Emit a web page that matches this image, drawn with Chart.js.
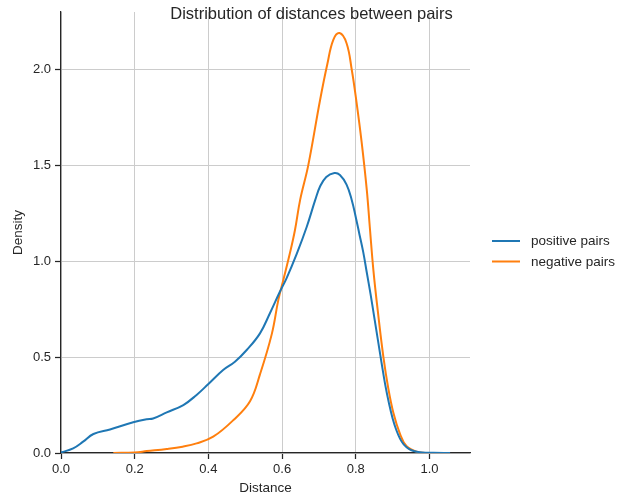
<!DOCTYPE html>
<html><head><meta charset="utf-8">
<script src="https://cdn.jsdelivr.net/npm/chart.js@4"></script>
<style>html,body{margin:0;padding:0;background:#fff}</style>
</head><body>
<canvas id="c" width="623" height="492"></canvas>
<script>
const chartTitle = 'Distribution of distances between pairs';
const seriesNames = ['positive pairs', 'negative pairs'];

const positiveX = [0, 0.033, 0.06, 0.088, 0.133, 0.196, 0.233, 0.25, 0.287, 0.332, 0.368, 0.40, 0.44, 0.472, 0.504, 0.54, 0.567, 0.594, 0.612, 0.64, 0.667, 0.69, 0.703, 0.72, 0.742, 0.757, 0.775, 0.789, 0.80, 0.81, 0.82, 0.83, 0.84, 0.85, 0.86, 0.87, 0.88, 0.89, 0.90, 0.91, 0.92, 0.93, 0.945, 0.96, 0.98, 1.01, 1.056];
const positiveY = [0.003, 0.024, 0.059, 0.099, 0.123, 0.16, 0.176, 0.18, 0.212, 0.25, 0.303, 0.36, 0.433, 0.476, 0.537, 0.624, 0.729, 0.841, 0.911, 1.04, 1.18, 1.32, 1.39, 1.44, 1.46, 1.45, 1.40, 1.32, 1.23, 1.14, 1.05, 0.94, 0.83, 0.71, 0.59, 0.47, 0.355, 0.26, 0.18, 0.12, 0.075, 0.045, 0.02, 0.009, 0.003, 0.001, 0];

const negativeX = [0.142, 0.2, 0.233, 0.287, 0.33, 0.368, 0.413, 0.468, 0.513, 0.54, 0.572, 0.59, 0.603, 0.621, 0.635, 0.649, 0.671, 0.703, 0.723, 0.739, 0.756, 0.775, 0.789, 0.802, 0.816, 0.83, 0.838, 0.848, 0.861, 0.875, 0.888, 0.902, 0.92, 0.938, 0.965, 0.992];
const negativeY = [0, 0.003, 0.01, 0.021, 0.033, 0.05, 0.085, 0.172, 0.27, 0.41, 0.62, 0.80, 0.90, 1.04, 1.163, 1.32, 1.5, 1.84, 2.03, 2.155, 2.19, 2.137, 2.0, 1.83, 1.62, 1.37, 1.18, 0.95, 0.72, 0.50, 0.34, 0.21, 0.10, 0.035, 0.007, 0];

const xTickValues = [0, 0.2, 0.4, 0.6, 0.8, 1.0];
const yTickValues = [0, 0.5, 1.0, 1.5, 2.0];

const FONT = '"Liberation Sans", Arial, sans-serif';
const TXT = '#262626';

const overlay = {
  id: 'overlay',
  afterDraw(chart) {
    const ctx = chart.ctx;
    ctx.save();
    ctx.fillStyle = TXT;
    ctx.font = '16.5px ' + FONT;
    ctx.textAlign = 'center';
    ctx.textBaseline = 'middle';
    ctx.fillText(chartTitle, 311.5, 14);
    chart.data.datasets.forEach((ds, i) => {
      const y = 241 + i * 20.5;
      ctx.strokeStyle = ds.borderColor;
      ctx.lineWidth = 2;
      ctx.beginPath();
      ctx.moveTo(492, y);
      ctx.lineTo(520, y);
      ctx.stroke();
      ctx.fillStyle = TXT;
      ctx.font = '13.5px ' + FONT;
      ctx.textAlign = 'left';
      ctx.textBaseline = 'middle';
      ctx.fillText(ds.label, 531, y + 0.5);
    });
    ctx.restore();
  }
};

const toPts = (xs, ys) => xs.map((x, i) => ({x: x, y: ys[i]}));

new Chart(document.getElementById('c'), {
  type: 'line',
  data: {
    datasets: [
      {label: seriesNames[0], data: toPts(positiveX, positiveY), borderColor: '#1f77b4', backgroundColor: '#1f77b4', borderWidth: 2, pointRadius: 0, tension: 0.4, fill: false},
      {label: seriesNames[1], data: toPts(negativeX, negativeY), borderColor: '#ff7f0e', backgroundColor: '#ff7f0e', borderWidth: 2, pointRadius: 0, tension: 0.4, fill: false}
    ]
  },
  options: {
    responsive: false,
    animation: false,
    layout: {padding: {left: 0, right: 153, top: 12, bottom: 0}},
    plugins: {legend: {display: false}, title: {display: false}, tooltip: {enabled: false}},
    scales: {
      x: {
        type: 'linear', min: 0, max: 1.11,
        afterFit: s => { s.height = 39; },
        afterBuildTicks: s => { s.ticks = xTickValues.map(v => ({value: v})); },
        border: {display: true, color: '#262626', width: 1.25},
        grid: {color: '#cccccc', lineWidth: 1, drawTicks: true, tickLength: 6, tickColor: '#262626', tickWidth: 1.25},
        ticks: {padding: 3, color: TXT, font: {size: 13, family: FONT}, callback: v => v.toFixed(1), maxRotation: 0},
        title: {display: true, text: 'Distance', color: TXT, font: {size: 13.5, family: FONT}, padding: {top: 0, bottom: -4}}
      },
      y: {
        type: 'linear', min: 0, max: 2.3,
        afterFit: s => { s.width = 61; },
        afterBuildTicks: s => { s.ticks = yTickValues.map(v => ({value: v})); },
        border: {display: true, color: '#262626', width: 1.25},
        grid: {color: '#cccccc', lineWidth: 1, drawTicks: true, tickLength: 6, tickColor: '#262626', tickWidth: 1.25},
        ticks: {padding: 4, color: TXT, font: {size: 13, family: FONT}, callback: v => v.toFixed(1)},
        title: {display: true, text: 'Density', color: TXT, font: {size: 13.5, family: FONT}, padding: {top: 10, bottom: 0}}
      }
    }
  },
  plugins: [overlay]
});
</script>
</body></html>
